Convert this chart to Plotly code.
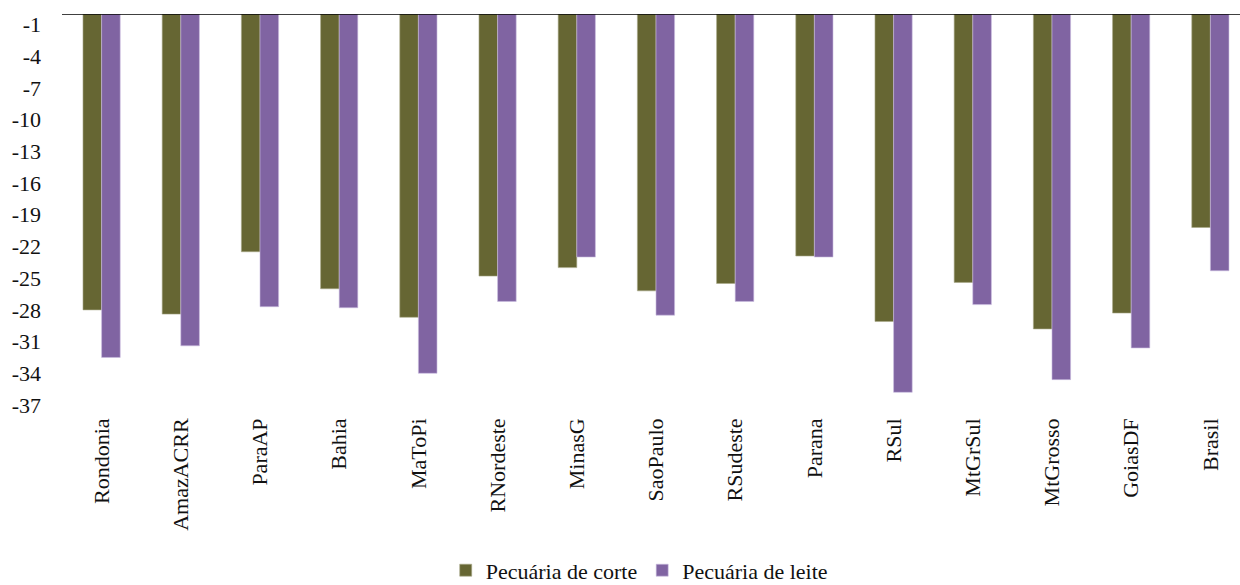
import plotly.graph_objects as go

# Regiões e variação (%) por tipo de pecuária
regioes = ["Rondonia", "AmazACRR", "ParaAP", "Bahia", "MaToPi", "RNordeste", "MinasG",
           "SaoPaulo", "RSudeste", "Parana", "RSul", "MtGrSul", "MtGrosso", "GoiasDF", "Brasil"]
corte = [-28.0, -28.4, -22.5, -26.0, -28.7, -24.8, -24.0,
         -26.2, -25.5, -22.9, -29.1, -25.4, -29.8, -28.3, -20.2]
leite = [-32.5, -31.4, -27.7, -27.8, -34.0, -27.2, -23.0,
         -28.5, -27.2, -23.0, -35.8, -27.5, -34.6, -31.6, -24.3]

y_ticks = list(range(-37, 0, 3))
FONT = "Liberation Serif"

fig = go.Figure()
fig.add_trace(go.Bar(
    x=regioes, y=corte, name="Pecuária de corte",
    marker=dict(color="#666633", line=dict(color="#a9a98a", width=0.6)),
))
fig.add_trace(go.Bar(
    x=regioes, y=leite, name="Pecuária de leite",
    marker=dict(color="#8064a2", line=dict(color="#cbbde0", width=0.6)),
))

# linha do eixo no zero (topo)
fig.add_shape(type="line", xref="paper", yref="y", x0=0, x1=1, y0=0, y1=0,
              line=dict(color="#000000", width=1.6))

fig.update_layout(
    width=1240, height=585,
    margin=dict(l=62, r=0, t=14, b=180),
    paper_bgcolor="white", plot_bgcolor="white",
    barmode="group", bargap=0.53, bargroupgap=0,
    font=dict(family=FONT, size=22, color="#111111"),
    xaxis=dict(
        range=[-0.5, 14.374], tickangle=-90, showgrid=False, showline=False,
        ticks="", ticklabelstandoff=8, tickfont=dict(size=22),
    ),
    yaxis=dict(
        range=[-37, 0], tickvals=y_ticks, ticktext=[str(v) for v in y_ticks],
        showgrid=False, zeroline=False, showline=False, ticks="",
        ticklabelstandoff=20, tickfont=dict(size=22),
    ),
    legend=dict(
        orientation="h", x=0.49, xanchor="center", yref="container", y=0.025,
        yanchor="middle", font=dict(size=22), itemwidth=30, traceorder="normal",
    ),
    showlegend=True,
)

fig.write_html("out.html")
